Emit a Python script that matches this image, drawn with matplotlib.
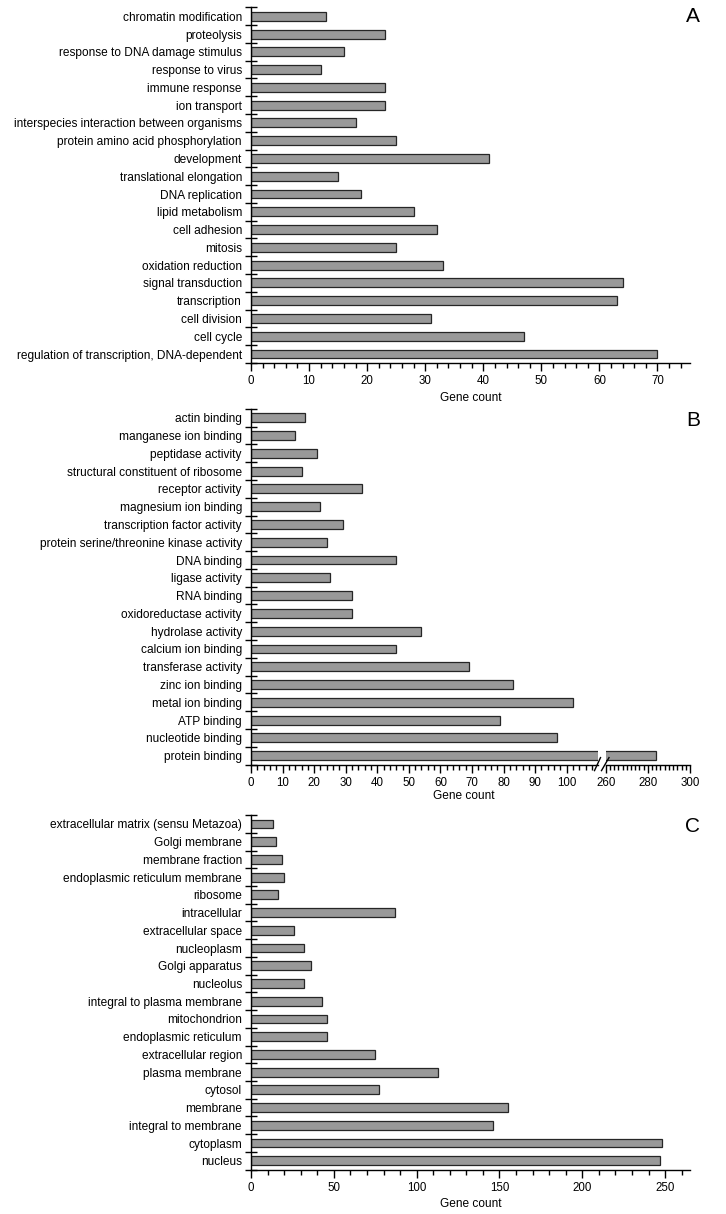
import numpy as np
import matplotlib
matplotlib.use('Agg')
import matplotlib.pyplot as plt
from matplotlib.ticker import MultipleLocator, FixedLocator
from matplotlib.lines import Line2D

plt.rcParams['font.family'] = ['Liberation Sans', 'DejaVu Sans']

# ---------------- data (top to bottom as drawn) ----------------
bp_terms = [
    "chromatin modification", "proteolysis", "response to DNA damage stimulus",
    "response to virus", "immune response", "ion transport",
    "interspecies interaction between organisms", "protein amino acid phosphorylation",
    "development", "translational elongation", "DNA replication", "lipid metabolism",
    "cell adhesion", "mitosis", "oxidation reduction", "signal transduction",
    "transcription", "cell division", "cell cycle",
    "regulation of transcription, DNA-dependent",
]
bp_counts = [13, 23, 16, 12, 23, 23, 18, 25, 41, 15, 19, 28, 32, 25, 33, 64, 63, 31, 47, 70]

mf_terms = [
    "actin binding", "manganese ion binding", "peptidase activity",
    "structural constituent of ribosome", "receptor activity", "magnesium ion binding",
    "transcription factor activity", "protein serine/threonine kinase activity",
    "DNA binding", "ligase activity", "RNA binding", "oxidoreductase activity",
    "hydrolase activity", "calcium ion binding", "transferase activity",
    "zinc ion binding", "metal ion binding", "ATP binding", "nucleotide binding",
    "protein binding",
]
mf_counts = [17, 14, 21, 16, 35, 22, 29, 24, 46, 25, 32, 32, 54, 46, 69, 83, 102, 79, 97, 284]

cc_terms = [
    "extracellular matrix (sensu Metazoa)", "Golgi membrane", "membrane fraction",
    "endoplasmic reticulum membrane", "ribosome", "intracellular",
    "extracellular space", "nucleoplasm", "Golgi apparatus", "nucleolus",
    "integral to plasma membrane", "mitochondrion", "endoplasmic reticulum",
    "extracellular region", "plasma membrane", "cytosol", "membrane",
    "integral to membrane", "cytoplasm", "nucleus",
]
cc_counts = [13, 15, 19, 20, 16, 87, 26, 32, 36, 32, 43, 46, 46, 75, 113, 77, 155, 146, 248, 247]

panel_letters = ["A", "B", "C"]
xlabel_text = "Gene count"

# ---------------- layout helpers ----------------
W, H = 726, 1214
fig = plt.figure(figsize=(W / 100, H / 100), dpi=100)

BAR = '#999999'
EDGE = '#262626'
LBL_FS = 8.6
TICK_FS = 8.3


def px_axes(x0, x1, ytop, ybot):
    return fig.add_axes([x0 / W, 1 - ybot / H, (x1 - x0) / W, (ybot - ytop) / H])


def draw_bars(ax, terms, counts, with_labels=True):
    n = len(terms)
    y = np.arange(n)
    ax.barh(y, counts, height=0.5, color=BAR, edgecolor=EDGE, linewidth=0.9, zorder=2)
    ax.set_ylim(n - 0.5, -0.5)
    for s in ['top', 'right']:
        ax.spines[s].set_visible(False)
    for s in ['left', 'bottom']:
        ax.spines[s].set_linewidth(1.0)
        ax.spines[s].set_color('black')
    if with_labels:
        ax.set_yticks(y)
        ax.set_yticklabels(terms, fontsize=LBL_FS)
        ax.tick_params(axis='y', which='major', length=0, pad=6.5)
        ax.yaxis.set_minor_locator(FixedLocator(np.arange(n + 1) - 0.5))
        ax.tick_params(axis='y', which='minor', direction='inout', length=8, width=1.0)
    ax.tick_params(axis='x', which='major', direction='out', length=6, width=1.0,
                   labelsize=TICK_FS, pad=3)
    ax.tick_params(axis='x', which='minor', direction='out', length=3.5, width=1.0)


# ---------------- Panel A ----------------
axA = px_axes(251, 690, 7.4, 362.9)
draw_bars(axA, bp_terms, bp_counts)
axA.set_xlim(0, 75.6)
axA.xaxis.set_major_locator(MultipleLocator(10))
axA.xaxis.set_minor_locator(MultipleLocator(2))
axA.set_xlabel(xlabel_text, fontsize=LBL_FS, labelpad=3)
fig.text(693 / W, 1 - 16 / H, panel_letters[0], fontsize=15, ha='center', va='center')

# ---------------- Panel B (broken axis) ----------------
axB = px_axes(251, 598.3, 408.8, 764.6)
draw_bars(axB, mf_terms, mf_counts)
axB.set_xlim(0, 110)
axB.set_xticks(np.arange(0, 101, 10))
axB.xaxis.set_minor_locator(FixedLocator(np.arange(0, 109, 2)))

axB2 = px_axes(605.7, 690, 408.8, 764.6)
draw_bars(axB2, mf_terms, mf_counts, with_labels=False)
axB2.set_xlim(260, 300)
axB2.set_xticks([260, 280, 300])
axB2.xaxis.set_minor_locator(MultipleLocator(2))
axB2.spines['left'].set_visible(False)
axB2.set_yticks([])
axB2.patch.set_alpha(0)

# break marks
yax = 1 - 764.6 / H
for xa, xb in [(594.5, 600.5), (601.5, 609.0)]:
    fig.add_artist(Line2D([xa / W, xb / W], [yax - 6 / H, yax + 7 / H],
                          color='black', lw=1.0))
fig.text(464 / W, 1 - 796 / H, xlabel_text, fontsize=LBL_FS, ha='center', va='center')
fig.text(693 / W, 1 - 420 / H, panel_letters[1], fontsize=15, ha='center', va='center')

# ---------------- Panel C ----------------
axC = px_axes(251, 690, 815.1, 1169.6)
draw_bars(axC, cc_terms, cc_counts)
axC.set_xlim(0, 265)
axC.xaxis.set_major_locator(MultipleLocator(50))
axC.xaxis.set_minor_locator(MultipleLocator(10))
axC.set_xlabel(xlabel_text, fontsize=LBL_FS, labelpad=3)
fig.text(693 / W, 1 - 826 / H, panel_letters[2], fontsize=15, ha='center', va='center')

fig.savefig('out.png', dpi=100)
